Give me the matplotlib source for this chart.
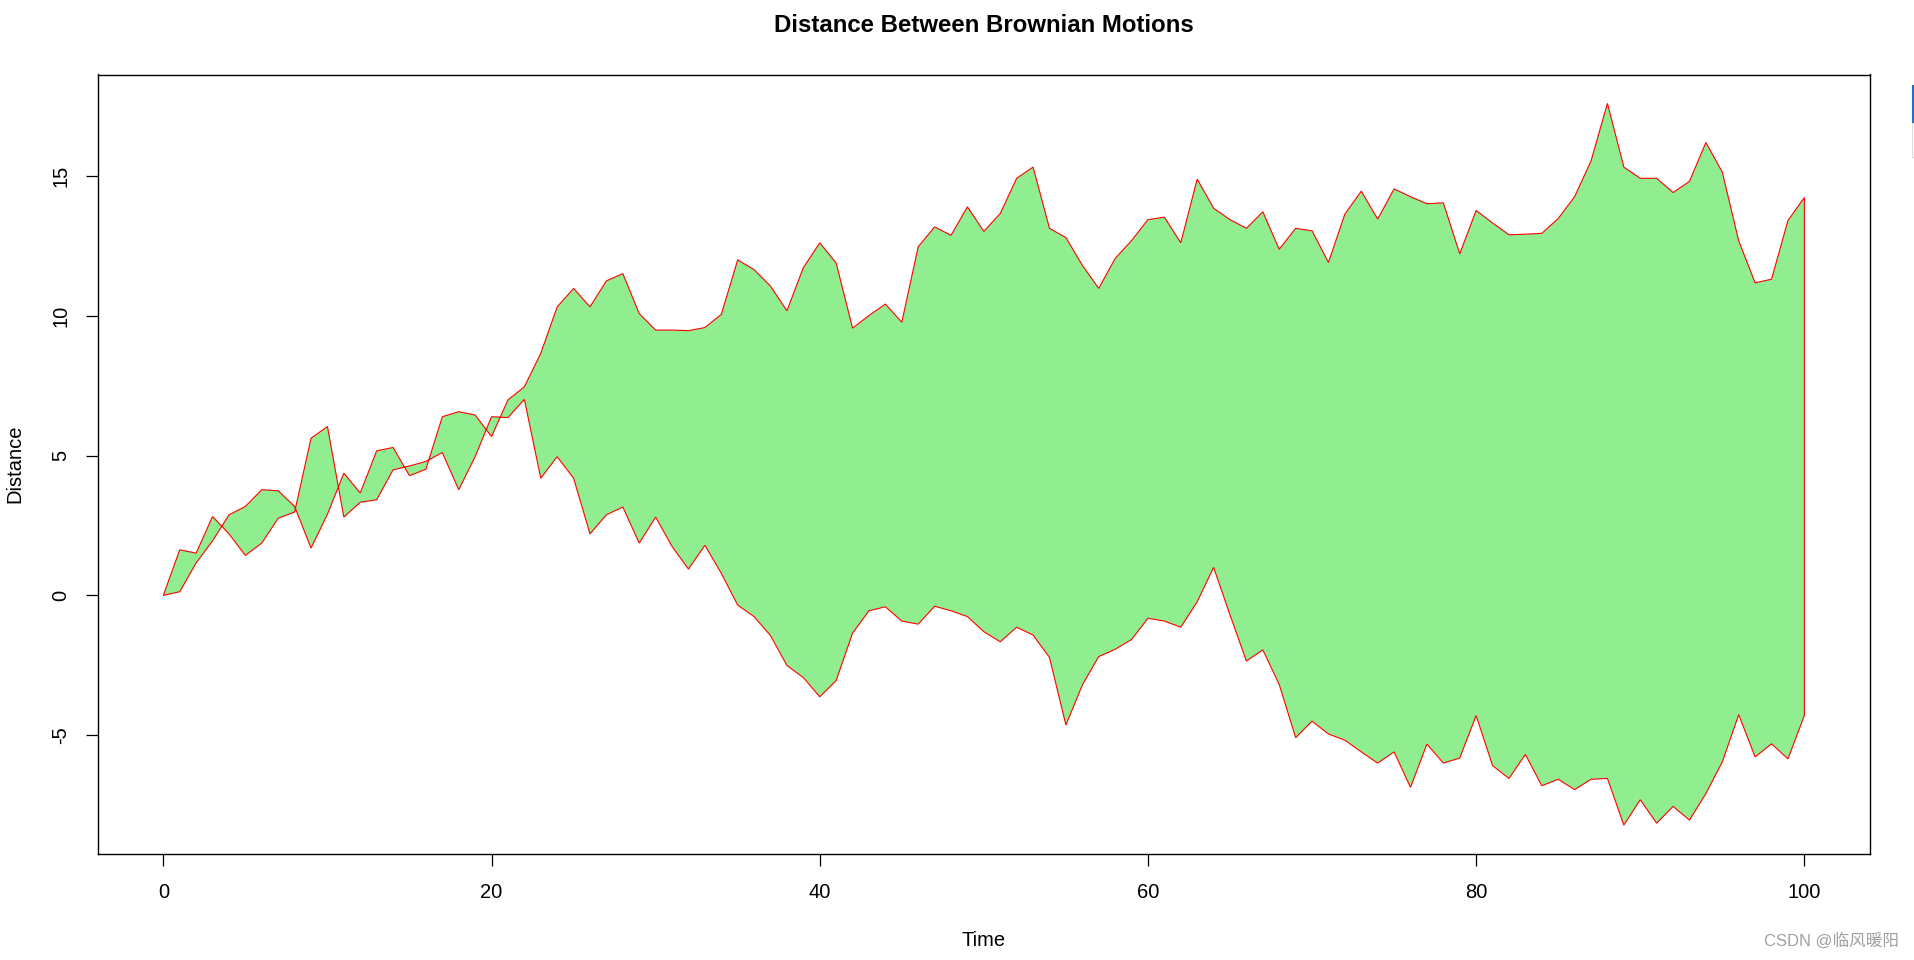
import numpy as np
import matplotlib
matplotlib.use("Agg")
import matplotlib.pyplot as plt
from matplotlib.patches import Rectangle

# ---- data ----
time = list(range(0, 101))

motion_a = [0, 0.13, 1.16, 1.95, 2.88, 3.18, 3.78, 3.74, 3.18, 1.69,
            2.9, 4.37, 3.66, 5.17, 5.29, 4.28, 4.51, 6.39, 6.57, 6.45,
            5.68, 6.99, 7.46, 8.66, 10.32, 10.98, 10.32, 11.25, 11.51, 10.08,
            9.49, 9.49, 9.47, 9.58, 10.05, 12.0, 11.65, 11.06, 10.18, 11.72,
            12.61, 11.89, 9.56, 10.01, 10.42, 9.77, 12.47, 13.18, 12.88, 13.9,
            13.02, 13.66, 14.92, 15.32, 13.13, 12.8, 11.81, 10.98, 12.05, 12.69,
            13.44, 13.53, 12.61, 14.89, 13.85, 13.44, 13.13, 13.72, 12.38, 13.13,
            13.04, 11.91, 13.64, 14.46, 13.46, 14.54, 14.26, 14.01, 14.04, 12.22,
            13.77, 13.32, 12.9, 12.92, 12.95, 13.48, 14.26, 15.54, 17.6, 15.32,
            14.92, 14.92, 14.41, 14.81, 16.2, 15.14, 12.68, 11.18, 11.31, 13.41,
            14.23]

motion_b = [0, 1.63, 1.51, 2.82, 2.2, 1.43, 1.87, 2.76, 2.98, 5.62,
            6.04, 2.8, 3.33, 3.42, 4.49, 4.63, 4.79, 5.11, 3.78, 4.96,
            6.39, 6.36, 7.01, 4.19, 4.96, 4.19, 2.2, 2.88, 3.16, 1.87,
            2.8, 1.75, 0.94, 1.79, 0.79, -0.35, -0.76, -1.44, -2.51, -2.94,
            -3.63, -3.05, -1.35, -0.55, -0.41, -0.92, -1.03, -0.39, -0.55, -0.76,
            -1.3, -1.66, -1.14, -1.42, -2.22, -4.64, -3.21, -2.19, -1.93, -1.58,
            -0.82, -0.92, -1.14, -0.23, 1.0, -0.7, -2.35, -1.95, -3.19, -5.09,
            -4.5, -4.96, -5.18, -5.6, -6.0, -5.6, -6.87, -5.32, -6.0, -5.82,
            -4.3, -6.09, -6.55, -5.69, -6.81, -6.58, -6.95, -6.58, -6.55, -8.22,
            -7.31, -8.15, -7.55, -8.04, -7.09, -5.96, -4.27, -5.78, -5.31, -5.85,
            -4.3]

x_ticks = [0, 20, 40, 60, 80, 100]
y_ticks = [-5, 0, 5, 10, 15]

title = "Distance Between Brownian Motions"
x_label = "Time"
y_label = "Distance"
watermark = "CSDN @临风暖阳"

# ---- plot ----
plt.rcParams['font.family'] = ['Liberation Sans', 'DejaVu Sans']

W, H = 1914, 960
fig = plt.figure(figsize=(W / 100, H / 100), dpi=100)
left, right, top, bottom = 97.7, 1870, 74.5, 854
ax = fig.add_axes([left / W, 1 - bottom / H, (right - left) / W, (bottom - top) / H])

t = np.array(time, dtype=float)
a = np.array(motion_a)
b = np.array(motion_b)
ax.fill(np.concatenate([t, t[::-1]]), np.concatenate([a, b[::-1]]),
        facecolor='#90EE90', edgecolor='red', linewidth=0.8, zorder=2)

# R-style 4% axis expansion
def rng(lo, hi):
    d = (hi - lo) * 0.04
    return lo - d, hi + d

ax.set_xlim(*rng(t.min(), t.max()))
ally = np.concatenate([a, b])
ax.set_ylim(*rng(ally.min(), ally.max()))

ax.set_xticks(x_ticks)
ax.set_xticklabels([str(v) for v in x_ticks])
ax.set_yticks(y_ticks)
ax.set_yticklabels([str(v) for v in y_ticks], rotation=90, va='center')

ax.tick_params(axis='both', direction='out', length=8.6, width=0.9,
               labelsize=14.5, color='black')
ax.tick_params(axis='x', pad=12)
ax.tick_params(axis='y', pad=11)

for s in ax.spines.values():
    s.set_linewidth(1.0)
    s.set_color('black')

ax.set_xlabel(x_label, fontsize=14.5)
ax.xaxis.label.set_va('center')
ax.xaxis.set_label_coords(0.5, -(940 - bottom) / (bottom - top))
ax.set_ylabel(y_label, fontsize=14.5)
ax.yaxis.label.set_va('center')
ax.yaxis.set_label_coords(-(left - 15) / (right - left), 0.5)

ax.set_title(title, fontsize=17.3, fontweight='bold', va='center', pad=0,
             y=1 + (top - 26) / (bottom - top))

fig.text(1831 / W, 1 - 941 / H, watermark, ha='center', va='center',
         fontsize=12, color='#a0a0a0',
         family=['Liberation Sans', 'Noto Sans CJK SC'])

# small UI artifact at the right edge
fig.patches.append(Rectangle((1911.5 / W, 1 - 123 / H), 3 / W, 38 / H,
                             transform=fig.transFigure, facecolor='#1a73c8',
                             edgecolor='none'))
fig.patches.append(Rectangle((1911.5 / W, 1 - 157 / H), 3 / W, 34 / H,
                             transform=fig.transFigure, facecolor='none',
                             edgecolor='#dddddd', linewidth=0.8))

fig.savefig("out.png", dpi=100, facecolor='white')
